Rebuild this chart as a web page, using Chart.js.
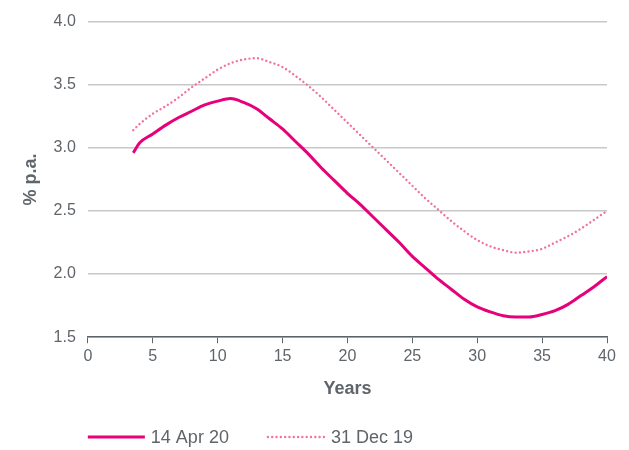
<!DOCTYPE html>
<html>
<head>
<meta charset="utf-8">
<script src="https://cdn.jsdelivr.net/npm/chart.js@4"></script>
<style>
  html, body { margin: 0; padding: 0; background: #fff; }
  #wrap { width: 629px; height: 450px; }
</style>
</head>
<body>
<div id="wrap"><canvas id="chart" width="629" height="450"></canvas></div>
<script>
// Data (term in years, yield % p.a.)
const years = [3.5, 4, 5, 6, 7, 8, 9, 10, 11, 12, 13, 14, 15, 16, 17, 18, 19, 20,
  21, 22, 23, 24, 25, 26, 27, 28, 29, 30, 31, 32, 33, 34, 35, 36, 37, 38, 39, 40];
const apr20 = [2.96, 3.04, 3.11, 3.18, 3.24, 3.29, 3.34, 3.37, 3.39, 3.36, 3.31, 3.23,
  3.15, 3.05, 2.95, 2.84, 2.74, 2.64, 2.55, 2.45, 2.35, 2.25, 2.14, 2.05, 1.96, 1.88,
  1.80, 1.74, 1.70, 1.67, 1.66, 1.66, 1.68, 1.71, 1.76, 1.83, 1.90, 1.98];
const dec19 = [3.14, 3.19, 3.27, 3.33, 3.40, 3.48, 3.55, 3.62, 3.67, 3.70, 3.71, 3.68,
  3.64, 3.57, 3.49, 3.40, 3.30, 3.20, 3.10, 3.00, 2.90, 2.80, 2.70, 2.60, 2.51, 2.42,
  2.34, 2.27, 2.22, 2.19, 2.17, 2.18, 2.20, 2.25, 2.30, 2.36, 2.43, 2.50];
const seriesNames = ["14 Apr 20", "31 Dec 19"];

const FONT = "'Liberation Sans', Arial, sans-serif";
const TEXT = "#5f656a";

const toPoints = vals => vals.map((v, i) => ({ x: years[i], y: v }));

// Legend drawn under the chart: sample line + label, starting at the plot's left edge
const bottomLegend = {
  id: "bottomLegend",
  afterDraw(chart) {
    const ctx = chart.ctx;
    const y = 437;
    let x = chart.chartArea.left - 1;
    ctx.save();
    ctx.font = "18px " + FONT;
    ctx.textBaseline = "middle";
    chart.data.datasets.forEach(ds => {
      ctx.beginPath();
      ctx.setLineDash(ds.borderDash || []);
      ctx.lineCap = ds.borderCapStyle || "butt";
      ctx.lineWidth = ds.borderWidth;
      ctx.strokeStyle = ds.borderColor;
      ctx.moveTo(x + 1, y);
      ctx.lineTo(x + 58, y);
      ctx.stroke();
      ctx.setLineDash([]);
      ctx.fillStyle = TEXT;
      ctx.fillText(ds.label, x + 64, y + 1);
      x += 64 + ctx.measureText(ds.label).width + 38;
    });
    ctx.restore();
  }
};

new Chart(document.getElementById("chart").getContext("2d"), {
  type: "line",
  data: {
    datasets: [
      {
        label: seriesNames[0],
        data: toPoints(apr20),
        borderColor: "#e6007a",
        backgroundColor: "#e6007a",
        borderWidth: 3,
        pointRadius: 0,
        cubicInterpolationMode: "monotone",
      },
      {
        label: seriesNames[1],
        data: toPoints(dec19),
        borderColor: "#f0739f",
        backgroundColor: "#f0739f",
        borderWidth: 2.4,
        borderDash: [0.01, 4.3],
        borderCapStyle: "round",
        pointRadius: 0,
        cubicInterpolationMode: "monotone",
      }
    ]
  },
  options: {
    responsive: false,
    animation: false,
    layout: { padding: { top: 15, right: 22, left: 16, bottom: 46 } },
    scales: {
      x: {
        type: "linear",
        min: 0, max: 40,
        ticks: { stepSize: 5, color: TEXT, font: { family: FONT, size: 16 }, padding: 4 },
        grid: { display: true, drawOnChartArea: false, drawTicks: true, tickLength: 6, color: "#5b646b" },
        border: { display: true, color: "#5b646b", width: 1.5 },
        title: { display: true, text: "Years", color: TEXT, font: { family: FONT, size: 18, weight: "bold" }, padding: { top: 8, bottom: 4 } }
      },
      y: {
        min: 1.5, max: 4.0,
        ticks: { stepSize: 0.5, color: TEXT, font: { family: FONT, size: 16 }, padding: 12, callback: v => v.toFixed(1) },
        grid: { drawTicks: false, color: "#c8c8c8", lineWidth: 1.5 },
        border: { display: false },
        title: { display: true, text: "% p.a.", color: TEXT, font: { family: FONT, size: 18, weight: "bold" }, padding: { top: 4, bottom: 0 } }
      }
    },
    plugins: {
      legend: { display: false },
      tooltip: { enabled: false }
    }
  },
  plugins: [bottomLegend]
});
</script>
</body>
</html>
